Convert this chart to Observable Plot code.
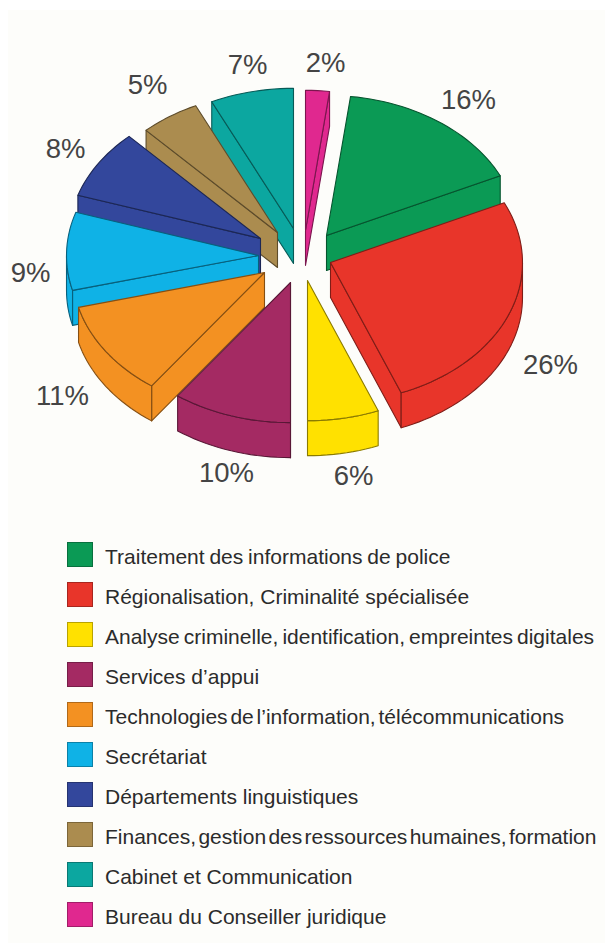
<!DOCTYPE html>
<html lang="fr">
<head>
<meta charset="utf-8">
<script src="https://cdn.jsdelivr.net/npm/d3@7"></script>
<script src="https://cdn.jsdelivr.net/npm/@observablehq/plot@0.6"></script>
<style>
  html, body { margin: 0; padding: 0; background: #fff; }
  #page { position: relative; width: 605px; height: 951px; overflow: hidden; }
  #panel { position: absolute; left: 8px; top: 10px; right: 0; bottom: 8px; background: #fdfdfa; }
  #chart { position: absolute; left: 0; top: 0; }
  #chart svg { background: transparent; display: block; }
  #legend { position: absolute; left: 67px; top: 534.5px; font: 21px "Liberation Sans", Arial, sans-serif; color: #2b2b2b; }
  .row { display: flex; align-items: center; height: 40.05px; white-space: nowrap; }
  .swatch { width: 26px; height: 25px; margin-right: 12px; box-sizing: border-box; border: 1.5px solid; flex: none; }
  .name { position: relative; top: 2.5px; }
</style>
</head>
<body>
<div id="page">
  <div id="panel"></div>
  <div id="chart"></div>
  <div id="legend"></div>
</div>
<script>
// Budget shares, clockwise from the top of the pie.
const categories = [
  "Bureau du Conseiller juridique",
  "Traitement des informations de police",
  "Régionalisation, Criminalité spécialisée",
  "Analyse criminelle, identification, empreintes digitales",
  "Services d’appui",
  "Technologies de l’information, télécommunications",
  "Secrétariat",
  "Départements linguistiques",
  "Finances, gestion des ressources humaines, formation",
  "Cabinet et Communication"
];
const shares = [2, 16, 26, 6, 10, 11, 9, 8, 5, 7];
const colors = ["#e0288f", "#0b9a55", "#e8352a", "#ffe100", "#a42a63", "#f39122", "#0fb2e6", "#33479c", "#ab8c4f", "#0ca7a0"];

// The legend reads from the green slice round, with the small magenta slice last.
const legendOrder = [1, 2, 3, 4, 5, 6, 7, 8, 9, 0];
// Long entries are set with tighter word gaps so they fit the line.
const wordGaps = [-1, 0, -1.75, 0, -3, 0, 0, -3.5, 0, 0];
// Slices are painted back to front.
const paintOrder = [0, 9, 8, 7, 6, 5, 4, 3, 1, 2];

// Pie geometry, in chart units.
const radius = 192;
const squash = 0.73;
const depth = 35;
const pieCentre = [298, 255];
const pulledOut = [[7, -25], [28, -20], [32, 7], [9, 25], [-8, 27], [-34, 17], [-40, 0], [-38, -17], [-21, -23], [-5, -27]];
const labelOffsets = [[27, -192], [170, -155], [252, 110], [55, 221], [-72, 218], [-236, 141], [-268, 18], [-233, -106], [-151, -170], [-51, -190]];

const toRadians = (share) => (share / 100) * 2 * Math.PI;
const cumulative = d3.cumsum(shares);
const onRim = (origin, angle, drop = 0) => ({
  x: origin[0] + radius * Math.sin(angle),
  y: origin[1] - radius * squash * Math.cos(angle) + drop
});

function arcPoints(origin, from, to, drop) {
  const steps = Math.max(2, Math.ceil(((to - from) * 180) / Math.PI / 2));
  return d3.range(steps + 1).map((i) => onRim(origin, from + ((to - from) * i) / steps, drop));
}

// Build the visible faces of every slice as closed outlines.
const faces = [];
function addFace(key, color, points) {
  const closed = [...points, points[0]];
  closed.forEach((p) => faces.push({...p, key, color}));
}
paintOrder.forEach((i) => {
  const a0 = toRadians(cumulative[i] - shares[i]);
  const a1 = toRadians(cumulative[i]);
  const origin = [pieCentre[0] + pulledOut[i][0], pieCentre[1] + pulledOut[i][1]];
  const apex = {x: origin[0], y: origin[1]};
  const c = colors[i];

  // Radial walls, shown only when they turn towards the viewer.
  const leftSide = a0 >= Math.PI;
  if (leftSide && a0 < 2 * Math.PI) {
    const rim = onRim(origin, a0);
    addFace(`w0-${i}`, c, [apex, rim, {x: rim.x, y: rim.y + depth}, {x: apex.x, y: apex.y + depth}]);
  }
  if (!leftSide && a1 < Math.PI) {
    const rim = onRim(origin, a1);
    addFace(`w1-${i}`, c, [apex, rim, {x: rim.x, y: rim.y + depth}, {x: apex.x, y: apex.y + depth}]);
  }

  // Outer wall along the front half of the rim.
  const f0 = Math.max(a0, Math.PI / 2);
  const f1 = Math.min(a1, (3 * Math.PI) / 2);
  if (f1 > f0) {
    addFace(`rim-${i}`, c, [...arcPoints(origin, f0, f1, 0), ...arcPoints(origin, f0, f1, depth).reverse()]);
  }

  // Top face.
  addFace(`top-${i}`, c, [apex, ...arcPoints(origin, a0, a1, 0)]);
});

const labels = shares.map((s, i) => ({
  text: `${s}%`,
  x: pieCentre[0] + labelOffsets[i][0],
  y: pieCentre[1] + labelOffsets[i][1]
}));

const edge = (c) => d3.color(c).darker(1.7).formatHex();

const chart = Plot.plot({
  width: 605,
  height: 525,
  margin: 0,
  x: {domain: [0, 605], range: [0, 605], axis: null},
  y: {domain: [0, 525], range: [0, 525], axis: null},
  marks: [
    Plot.line(faces, {
      x: "x",
      y: "y",
      z: "key",
      fill: (d) => d.color,
      stroke: (d) => edge(d.color),
      strokeWidth: 1.1,
      strokeLinejoin: "round",
      curve: "linear"
    }),
    Plot.text(labels, {
      x: "x",
      y: "y",
      text: "text",
      fontSize: 27.5,
      fontFamily: "Liberation Sans, Arial, sans-serif",
      fill: "#444"
    })
  ]
});
document.getElementById("chart").append(chart);

const legend = document.getElementById("legend");
legendOrder.forEach((i, rowIndex) => {
  const row = document.createElement("div");
  row.className = "row";
  const swatch = document.createElement("span");
  swatch.className = "swatch";
  swatch.style.background = colors[i];
  swatch.style.borderColor = d3.color(colors[i]).darker(0.9).formatHex();
  const name = document.createElement("span");
  name.className = "name";
  name.style.wordSpacing = `${wordGaps[rowIndex]}px`;
  name.textContent = categories[i];
  row.append(swatch, name);
  legend.append(row);
});
</script>
</body>
</html>
